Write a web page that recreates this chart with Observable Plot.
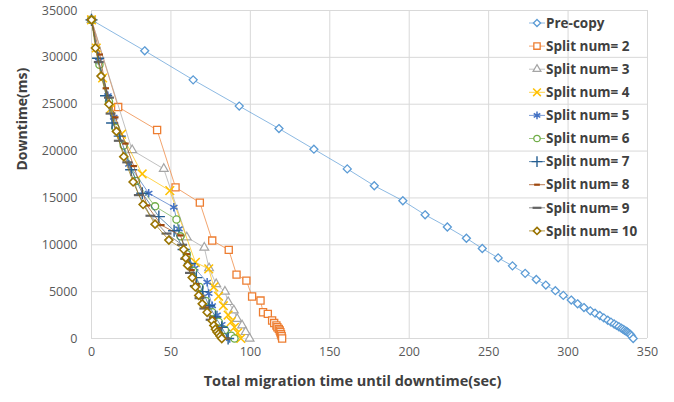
<!DOCTYPE html>
<html>
<head>
<meta charset="utf-8">
<script src="https://cdn.jsdelivr.net/npm/d3@7"></script>
<script src="https://cdn.jsdelivr.net/npm/@observablehq/plot@0.6"></script>
<style>
  html, body { margin: 0; padding: 0; background: #fff; }
  #chart { width: 674px; height: 402px; position: relative; }
  svg { font-family: "Open Sans", "Noto Sans", sans-serif; }
</style>
</head>
<body>
<div id="chart"></div>
<script>
// ---- data ----
const seriesNames = ["Pre-copy", "Split num= 2", "Split num= 3", "Split num= 4", "Split num= 5",
  "Split num= 6", "Split num= 7", "Split num= 8", "Split num= 9", "Split num= 10"];
const seriesColors = ["#5B9BD5", "#ED7D31", "#A5A5A5", "#FFC000", "#4472C4",
  "#70AD47", "#255E91", "#9E480E", "#636363", "#997300"];
const xTicks = [0, 50, 100, 150, 200, 250, 300, 350];
const yTicks = [0, 5000, 10000, 15000, 20000, 25000, 30000, 35000];

const preCopy = [[0,34000],[33.5,30700],[64,27600],[93,24800],[118,22400],[140,20200],[161,18100],[178,16300],
  [196,14700],[210,13200],[224,11900],[236,10700],[246,9600],[256,8600],[265,7750],[273,6950],[280,6300],
  [286,5700],[292,5100],[297,4600],[302,4100],[306,3700],[310,3300],[314,2950],[317,2700],[320,2450],
  [322.5,2200],[325,1950],[327,1750],[329,1550],[330.5,1400],[332,1250],[333.5,1100],[334.5,1000],
  [335.5,880],[336.5,780],[337.3,700],[338,600],[338.7,500],[339.3,400],[340,250],[341,0]];
const split2 = [[0,34000],[16.8,24700],[41.3,22250],[52.9,16130],[68.2,14500],[76,10450],[86.4,9460],
  [91.3,6820],[97.5,6180],[101.1,4480],[106.4,4050],[108,2800],[111,2630],[113.7,1920],[115,1650],
  [116.4,1390],[117,1200],[117.9,1030],[118.5,850],[118.9,670],[119.3,450],[119.7,250],[120,0]];
const split3 = [[0,34000],[25.6,20100],[45.5,18100],[60,10800],[71,9700],[74,7500],[78.5,5800],[84,5000],
  [86,3900],[89.6,3000],[91.7,2100],[94.8,1400],[97,700],[99.5,0]];
const split4 = [[0,34000],[3,31000],[7,27800],[12,24500],[18.9,21800],[31.9,17560],[49.3,15780],[65.4,8130],
  [73.8,7430],[77,5500],[80,4500],[83,3500],[86,2500],[88,1800],[90,1200],[92,600],[94,0]];
const split5 = [[0,34000],[4.6,29600],[10.3,25900],[14,23600],[23.5,18600],[36,15500],[51.8,14000],
  [55,11700],[60,9000],[65,7500],[72.8,6000],[73.8,4800],[76,3500],[79,2500],[82,1500],[85,700],[87,0]];
const split6 = [[0,34000],[5,29200],[11,25300],[15,22500],[20.3,20600],[28.1,16800],[40,14100],[53.5,12700],
  [56,10900],[60,9000],[64,7200],[68,5500],[72,4000],[76,2800],[80,1800],[84,900],[88,300],[90,0]];
const split7 = [[0,34000],[4.2,29900],[9.2,25900],[13,23000],[17.8,21600],[25,18000],[32,15500],[42.4,13000],
  [52,11500],[58,9500],[62,8000],[66,6500],[70,5000],[74,3500],[78,2300],[82,1200],[86,0]];
const split8 = [[0,34000],[5.2,30300],[9,26700],[15,23600],[21.4,20800],[26.6,18400],[35,14200],[44,12100],
  [56,11000],[60,9000],[63,7300],[66,5800],[69,4500],[72,3300],[76,2200],[80,1100],[85,0]];
const split9 = [[0,34000],[4.6,29500],[11,25700],[12,24000],[17.2,21100],[22.5,18800],[29.8,15300],[37.1,13100],
  [47.2,11200],[57,10000],[59,8500],[62,7000],[65,5600],[68,4300],[71,3200],[75,2000],[79,1000],[84,0]];
const split10 = [[0,34000],[2.5,31000],[6,28000],[11,25000],[15.7,22100],[20.3,19400],[26.2,16700],[32.5,14300],
  [40,12200],[48.7,10500],[58,9500],[59.3,8600],[60.5,7800],[63.4,6500],[65.4,5500],[67.5,4600],[69.7,3700],
  [72.8,2800],[76,1900],[77,1400],[78,1000],[79,700],[80,500],[81,250],[82,0]];

const allSeries = [preCopy, split2, split3, split4, split5, split6, split7, split8, split9, split10];

// ---- symbols ----
const dashShort = { draw(ctx, size) { const w = Math.sqrt(size) * 0.45; ctx.moveTo(-w, 0); ctx.lineTo(w, 0); } };
const dashLong = { draw(ctx, size) { const w = Math.sqrt(size) * 0.7; ctx.moveTo(-w, 0); ctx.lineTo(w, 0); } };
const symbolSpecs = [
  { symbol: "diamond2", fill: "white", r: 3.6, sw: 1.3, d3: d3.symbolDiamond2 },
  { symbol: "square", fill: "white", r: 4.0, sw: 1.3, d3: d3.symbolSquare },
  { symbol: "triangle2", fill: "white", r: 4.2, sw: 1.2, d3: d3.symbolTriangle2 },
  { symbol: "times", fill: "none", r: 4.0, sw: 1.5, d3: d3.symbolTimes },
  { symbol: "asterisk", fill: "none", r: 4.0, sw: 1.5, d3: d3.symbolAsterisk },
  { symbol: "circle", fill: "white", r: 3.6, sw: 1.3, d3: d3.symbolCircle },
  { symbol: "plus", fill: "none", r: 4.0, sw: 1.4, d3: d3.symbolPlus },
  { symbol: dashShort, fill: "none", r: 4.0, sw: 2.2, d3: dashShort },
  { symbol: dashLong, fill: "none", r: 4.0, sw: 2.2, d3: dashLong },
  { symbol: "diamond2", fill: "white", r: 3.6, sw: 1.6, d3: d3.symbolDiamond2 }
];

const marks = [
  Plot.gridX(xTicks, { stroke: "#d9d9d9", strokeOpacity: 1, strokeWidth: 1 }),
  Plot.gridY(yTicks, { stroke: "#d9d9d9", strokeOpacity: 1, strokeWidth: 1 }),
  Plot.axisX(xTicks, { tickSize: 0, tickPadding: 9, fontSize: 12.5, fill: "#595959", label: null, tickFormat: d3.format("d") }),
  Plot.axisY(yTicks, { tickSize: 0, tickPadding: 14, fontSize: 12.5, fill: "#595959", label: null, tickFormat: d3.format("d") })
];

allSeries.forEach((data, i) => {
  const s = symbolSpecs[i];
  marks.push(Plot.line(data, { x: d => d[0], y: d => d[1], stroke: seriesColors[i], strokeWidth: 1, strokeOpacity: 0.7 }));
  marks.push(Plot.dot(data, { x: d => d[0], y: d => d[1], symbol: s.symbol, r: s.r, stroke: seriesColors[i], fill: s.fill, strokeWidth: s.sw }));
});

marks.push(Plot.text(["Total migration time until downtime(sec)"], {
  frameAnchor: "bottom", text: d => d, dy: 47, dx: -17, fontSize: 14.5, fontWeight: "bold", fill: "#404040"
}));
marks.push(Plot.text(["Downtime(ms)"], {
  frameAnchor: "left", text: d => d, dx: -69, dy: -4, rotate: -90, fontSize: 14, fontWeight: "bold", fill: "#404040"
}));

const plot = Plot.plot({
  width: 674,
  height: 402,
  marginLeft: 91,
  marginRight: 27,
  marginTop: 10,
  marginBottom: 64,
  x: { domain: [0, 350] },
  y: { domain: [0, 35000] },
  marks
});
document.getElementById("chart").appendChild(plot);

// ---- legend (inside plot area, transparent) ----
const svg = d3.select(plot);
const lg = svg.append("g").attr("text-anchor", "start");
const legendX = 537, legendY0 = 23, legendStep = 23.1;
seriesNames.forEach((name, i) => {
  const s = symbolSpecs[i];
  const y = legendY0 + i * legendStep;
  lg.append("line").attr("x1", legendX - 8).attr("x2", legendX + 8).attr("y1", y).attr("y2", y)
    .attr("stroke", seriesColors[i]).attr("stroke-width", 1).attr("stroke-opacity", 0.7);
  lg.append("path").attr("transform", `translate(${legendX},${y})`)
    .attr("d", d3.symbol(s.d3, Math.PI * s.r * s.r * 0.8)())
    .attr("stroke", seriesColors[i]).attr("fill", s.fill).attr("stroke-width", s.sw);
  lg.append("text").attr("x", legendX + 9).attr("y", y).attr("dy", "0.35em").attr("text-anchor", "start")
    .attr("font-size", 13.5).attr("font-weight", "bold").attr("fill", "#404040").text(name);
});
</script>
</body>
</html>
